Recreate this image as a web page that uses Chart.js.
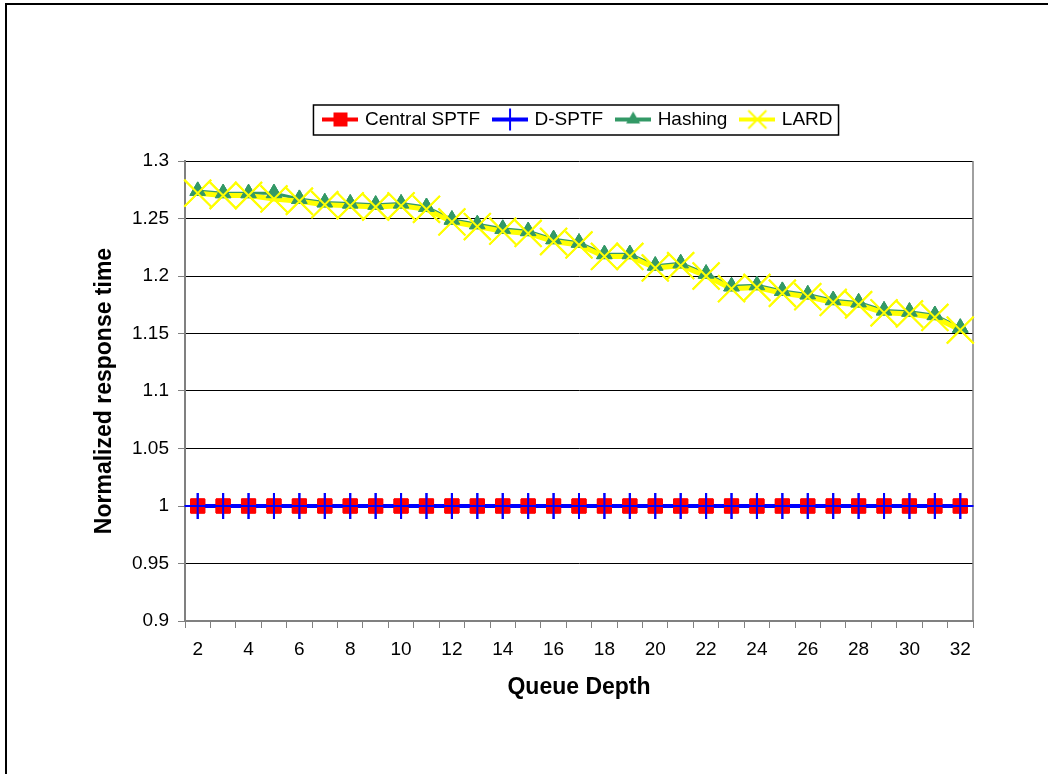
<!DOCTYPE html>
<html>
<head>
<meta charset="utf-8">
<title>Normalized response time vs queue depth</title>
<script src="https://cdn.jsdelivr.net/npm/chart.js"></script>
<style>
  body { margin: 0; background: #fff; }
  #wrap { width: 1048px; height: 774px; }
</style>
</head>
<body>
<div id="wrap"><canvas id="chart" width="1048" height="774"></canvas></div>
<script>
const queueDepth = ['2', '3', '4', '5', '6', '7', '8', '9', '10', '11', '12', '13', '14', '15', '16', '17',
    '18', '19', '20', '21', '22', '23', '24', '25', '26', '27', '28', '29', '30', '31', '32'];

const centralSptf = [1, 1, 1, 1, 1, 1, 1, 1, 1, 1, 1, 1, 1, 1, 1, 1,
    1, 1, 1, 1, 1, 1, 1, 1, 1, 1, 1, 1, 1, 1, 1];
const dSptf = [1, 1, 1, 1, 1, 1, 1, 1, 1, 1, 1, 1, 1, 1, 1, 1,
    1, 1, 1, 1, 1, 1, 1, 1, 1, 1, 1, 1, 1, 1, 1];
const hashing = [1.274, 1.272, 1.272, 1.272, 1.267, 1.264, 1.263, 1.262, 1.263, 1.260, 1.249, 1.245, 1.241, 1.239, 1.232, 1.229,
    1.219, 1.219, 1.209, 1.211, 1.202, 1.191, 1.192, 1.187, 1.184, 1.179, 1.177, 1.170, 1.169, 1.166, 1.155];
const lard = [1.272, 1.270, 1.270, 1.267, 1.265, 1.262, 1.261, 1.260, 1.261, 1.258, 1.247, 1.243, 1.239, 1.237, 1.230, 1.227,
    1.217, 1.217, 1.207, 1.209, 1.200, 1.189, 1.190, 1.185, 1.182, 1.177, 1.175, 1.168, 1.167, 1.164, 1.153];

const FONT = 'Arial, "Liberation Sans", sans-serif';
const GRAY = '#808080';

// little "line + marker" pictures for the legend, like Excel draws them
function legendIcon(color, lineW, draw) {
    const c = document.createElement('canvas');
    c.width = 36; c.height = 24;
    const g = c.getContext('2d');
    g.strokeStyle = color;
    g.lineWidth = lineW;
    g.beginPath(); g.moveTo(0, 12); g.lineTo(36, 12); g.stroke();
    draw(g);
    return c;
}
const icons = [
    legendIcon('#FF0000', 4, g => { g.fillStyle = '#FF0000'; g.fillRect(11, 5, 14, 14); }),
    legendIcon('#0000FF', 4, g => { g.lineWidth = 2; g.beginPath(); g.moveTo(18, 1); g.lineTo(18, 23); g.stroke(); }),
    legendIcon('#339966', 4, g => {
        g.fillStyle = '#339966'; g.beginPath();
        g.moveTo(18, 4); g.lineTo(25, 16); g.lineTo(11, 16); g.closePath(); g.fill();
    }),
    legendIcon('#FFFF00', 4, g => {
        g.lineWidth = 2; g.beginPath();
        g.moveTo(9, 3); g.lineTo(27, 21); g.moveTo(27, 3); g.lineTo(9, 21); g.stroke();
    })
];

const framePlugin = {
    id: 'frame',
    beforeLayout(chart) {
        // leave a gap between the legend and the plot area
        const lg = chart.legend;
        if (lg && !lg._gap) {
            const fit = lg.fit;
            lg.fit = function () { fit.call(this); this.height += 22; };
            lg._gap = true;
        }
    },
    beforeDraw(chart) {
        const c = chart.ctx;
        c.save();
        c.fillStyle = '#fff';
        c.fillRect(0, 0, chart.width, chart.height);
        c.strokeStyle = '#000';
        c.lineWidth = 2;
        c.beginPath();
        c.moveTo(6, chart.height); c.lineTo(6, 4); c.lineTo(chart.width, 4);
        c.stroke();
        c.restore();
    },
    beforeDatasetsDraw(chart) {
        const a = chart.chartArea, c = chart.ctx;
        c.save();
        c.strokeStyle = GRAY;
        c.lineWidth = 1.5;
        c.beginPath(); c.moveTo(a.right, a.top); c.lineTo(a.right, a.bottom); c.stroke();
        c.restore();
    },
    afterDatasetsDraw(chart) {
        // Excel puts every marker above every line: redraw markers in series order
        chart.data.datasets.forEach((ds, i) => {
            chart.getDatasetMeta(i).data.forEach(pt => pt.draw(chart.ctx));
        });
    },
    afterDraw(chart) {
        const hb = chart.legend.legendHitBoxes;
        if (!hb || !hb.length) return;
        const left = Math.min(...hb.map(h => h.left)) - 12;
        const right = Math.max(...hb.map(h => h.left + h.width)) + 6;
        const top = hb[0].top - 5;
        const c = chart.ctx;
        c.save();
        c.strokeStyle = '#000';
        c.lineWidth = 1.5;
        c.strokeRect(left, top, right - left, 30);
        c.restore();
    }
};

const ctx = document.getElementById('chart').getContext('2d');
new Chart(ctx, {
    type: 'line',
    data: {
        labels: queueDepth,
        datasets: [{
            label: 'Central SPTF',
            data: centralSptf,
            borderColor: '#FF0000',
            borderWidth: 3,
            pointStyle: 'rect',
            pointRadius: 10,
            pointBackgroundColor: '#FF0000',
            pointBorderColor: '#FF0000',
            pointBorderWidth: 1,
            order: 4
        }, {
            label: 'D-SPTF',
            data: dSptf,
            borderColor: '#0000FF',
            borderWidth: 4,
            pointStyle: 'cross',
            pointRadius: 13,
            pointBorderColor: '#0000FF',
            pointBorderWidth: 2,
            order: 3
        }, {
            label: 'Hashing',
            data: hashing,
            borderColor: '#339966',
            borderWidth: 3,
            pointStyle: 'triangle',
            pointRadius: 9,
            pointBackgroundColor: '#339966',
            pointBorderColor: '#339966',
            pointBorderWidth: 1,
            order: 2
        }, {
            label: 'LARD',
            data: lard,
            borderColor: '#FFFF00',
            borderWidth: 5,
            pointStyle: 'crossRot',
            pointRadius: 19,
            pointBorderColor: '#FFFF00',
            pointBorderWidth: 2,
            order: 1
        }]
    },
    options: {
        responsive: false,
        animation: false,
        clip: false,
        elements: { line: { tension: 0 }, point: { hoverRadius: 0 } },
        layout: { padding: { left: 80, right: 75, top: 95, bottom: 73 } },
        plugins: {
            tooltip: { enabled: false },
            legend: {
                position: 'top',
                fullSize: false,
                labels: {
                    usePointStyle: true,
                    pointStyleWidth: 30,
                    padding: 15,
                    color: '#000',
                    font: { family: FONT, size: 19 },
                    sort: (a, b) => a.datasetIndex - b.datasetIndex,
                    generateLabels(chart) {
                        const items = Chart.defaults.plugins.legend.labels.generateLabels(chart);
                        items.forEach(it => { it.pointStyle = icons[it.datasetIndex]; });
                        return items;
                    }
                }
            }
        },
        scales: {
            x: {
                offset: true,
                grid: { offset: true, drawOnChartArea: false, color: GRAY, tickLength: 7 },
                border: { color: GRAY, width: 2 },
                ticks: {
                    autoSkip: false,
                    maxRotation: 0,
                    padding: 10,
                    color: '#000',
                    font: { family: FONT, size: 19 },
                    callback: (v, i) => (i % 2 === 0 ? queueDepth[i] : '')
                },
                title: {
                    display: true,
                    text: 'Queue Depth',
                    color: '#000',
                    font: { family: FONT, size: 23, weight: 'bold' },
                    padding: { top: 0, bottom: 0 }
                },
                afterFit: s => { s.height = 80; }
            },
            y: {
                min: 0.9,
                max: 1.3,
                grid: { color: '#000', lineWidth: 1, tickColor: GRAY, tickLength: 7 },
                border: { color: GRAY, width: 2 },
                ticks: {
                    stepSize: 0.05,
                    padding: 9,
                    color: '#000',
                    font: { family: FONT, size: 19 },
                    callback: v => String(Number(v.toFixed(2)))
                },
                title: {
                    display: true,
                    text: 'Normalized response time',
                    color: '#000',
                    font: { family: FONT, size: 23, weight: 'bold' },
                    padding: { top: 11, bottom: 0 }
                },
                afterFit: s => { s.width = 105; }
            }
        }
    },
    plugins: [framePlugin]
});
</script>
</body>
</html>
